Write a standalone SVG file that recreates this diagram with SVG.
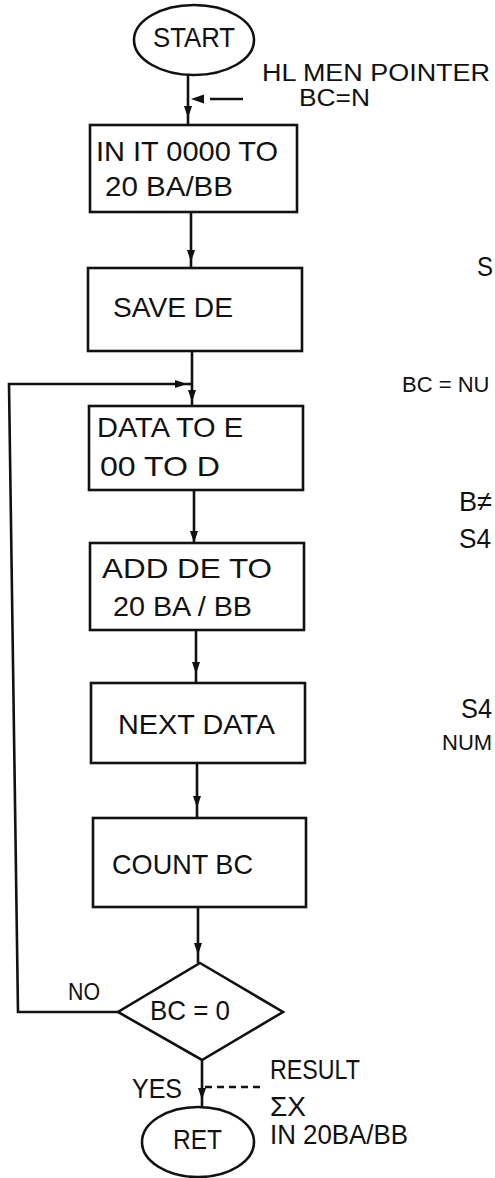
<svg xmlns="http://www.w3.org/2000/svg" width="495" height="1178" viewBox="0 0 495 1178">
<style>
.s{fill:none;stroke:#111;stroke-width:2.6}
.n{fill:#fff;stroke:#111;stroke-width:2.6}
text{font-family:"Liberation Sans",Arial,sans-serif;fill:#111}
.t{font-size:28px}
.m{font-size:23px}
.r{font-size:22px}
.d{stroke-dasharray:7 5}
</style>
<defs>
<marker id="ah" viewBox="0 0 12 8" refX="12" refY="4" markerWidth="12" markerHeight="8" markerUnits="userSpaceOnUse" orient="auto">
<path d="M0,0 L12,4 L0,8 z" fill="#111"/>
</marker>
</defs>
<rect width="495" height="1178" fill="#fff"/>
<g id="connectors">
<path class="s" d="M188 75 V118 V125" marker-mid="url(#ah)"/>
<path class="s" d="M191 212 V262 V268" marker-mid="url(#ah)"/>
<path class="s" d="M192 351 V402 V406" marker-mid="url(#ah)"/>
<path class="s" d="M194 490 V543" marker-end="url(#ah)"/>
<path class="s" d="M196 630 V674 V683" marker-mid="url(#ah)"/>
<path class="s" d="M197 763 V808 V818" marker-mid="url(#ah)"/>
<path class="s" d="M198 907 V955 V963" marker-mid="url(#ah)"/>
<path class="s" d="M202 1060 V1100 V1107" marker-mid="url(#ah)"/>
<path class="s" d="M118 1012 H18 L9 384 H187" marker-end="url(#ah)"/>
<path class="s" d="M187 384 H192"/>
<path class="s" d="M243 99 H210"/>
<path d="M191 99 L204 94.5 L204 103.5 z" fill="#111"/>
<path class="s d" d="M205 1087 H262"/>
</g>
<g id="start">
<ellipse class="n" cx="194" cy="40" rx="60" ry="35"/>
<text class="t" x="153" y="47" textLength="82" lengthAdjust="spacingAndGlyphs">START</text>
</g>
<g id="note-hl">
<text class="m" x="262" y="81" textLength="228" lengthAdjust="spacingAndGlyphs">HL MEN POINTER</text>
<text class="m" x="299" y="106" textLength="71" lengthAdjust="spacingAndGlyphs">BC=N</text>
</g>
<g id="init">
<rect class="n" x="90" y="125" width="207" height="87"/>
<text class="t" x="96" y="161" textLength="182" lengthAdjust="spacingAndGlyphs">IN IT 0000 TO</text>
<text class="t" x="105" y="196" textLength="128" lengthAdjust="spacingAndGlyphs">20 BA/BB</text>
</g>
<g id="save">
<rect class="n" x="88" y="268" width="214" height="83"/>
<text class="t" x="113" y="317" textLength="120" lengthAdjust="spacingAndGlyphs">SAVE DE</text>
</g>
<g id="data">
<rect class="n" x="89" y="406" width="214" height="84"/>
<text class="t" x="97" y="437" textLength="146" lengthAdjust="spacingAndGlyphs">DATA TO E</text>
<text class="t" x="100" y="476" textLength="120" lengthAdjust="spacingAndGlyphs">00 TO D</text>
</g>
<g id="add">
<rect class="n" x="90" y="543" width="214" height="87"/>
<text class="t" x="102" y="578" textLength="170" lengthAdjust="spacingAndGlyphs">ADD DE TO</text>
<text class="t" x="113" y="616" textLength="139" lengthAdjust="spacingAndGlyphs">20 BA / BB</text>
</g>
<g id="next">
<rect class="n" x="91" y="683" width="214" height="80"/>
<text class="t" x="118" y="734" textLength="157" lengthAdjust="spacingAndGlyphs">NEXT DATA</text>
</g>
<g id="count">
<rect class="n" x="93" y="818" width="213" height="89"/>
<text class="t" x="112" y="874" textLength="141" lengthAdjust="spacingAndGlyphs">COUNT BC</text>
</g>
<g id="decision">
<polygon class="n" points="200,963 283,1012 202,1060 118,1012"/>
<text class="t" x="150" y="1020" textLength="80" lengthAdjust="spacingAndGlyphs">BC = 0</text>
<text class="m" x="68" y="1000" textLength="32" lengthAdjust="spacingAndGlyphs">NO</text>
<text class="t" x="132" y="1098" textLength="50" lengthAdjust="spacingAndGlyphs">YES</text>
</g>
<g id="ret">
<ellipse class="n" cx="198" cy="1142" rx="56" ry="35"/>
<text class="t" x="173" y="1149" textLength="49" lengthAdjust="spacingAndGlyphs">RET</text>
</g>
<g id="note-result">
<text class="t" x="270" y="1079" textLength="90" lengthAdjust="spacingAndGlyphs">RESULT</text>
<text class="t" x="270" y="1116" textLength="36" lengthAdjust="spacingAndGlyphs">ΣX</text>
<text class="t" x="270" y="1144" textLength="138" lengthAdjust="spacingAndGlyphs">IN 20BA/BB</text>
</g>
<g id="right-fragments">
<text class="t" x="477" y="276" textLength="16" lengthAdjust="spacingAndGlyphs">S</text>
<text class="r" x="402" y="392">BC = NU</text>
<text class="t" x="459" y="511" textLength="33" lengthAdjust="spacingAndGlyphs">B≠</text>
<text class="t" x="459" y="548" textLength="32" lengthAdjust="spacingAndGlyphs">S4</text>
<text class="t" x="461" y="718" textLength="31" lengthAdjust="spacingAndGlyphs">S4</text>
<text class="r" x="442" y="750" font-size="21">NUM</text>
</g>
</svg>
